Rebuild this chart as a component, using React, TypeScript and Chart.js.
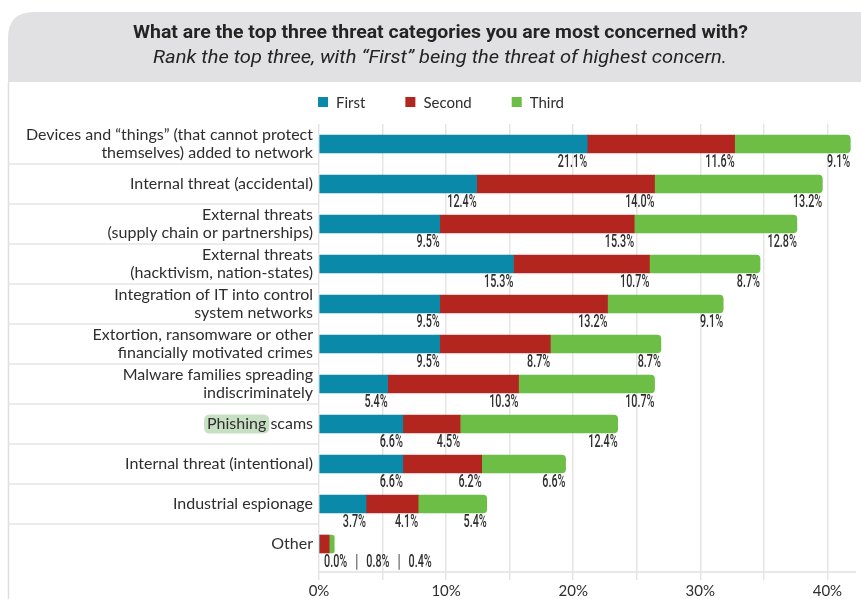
import React, { useEffect, useRef } from 'react';
import { Chart, registerables } from 'chart.js';

Chart.register(...registerables);

const titleText = 'What are the top three threat categories you are most concerned with?';
const subtitleText = 'Rank the top three, with \u201CFirst\u201D being the threat of highest concern.';

const categories: (string | string[])[] = [
  ['Devices and \u201Cthings\u201D (that cannot protect', 'themselves) added to network'],
  'Internal threat (accidental)',
  ['External threats', '(supply chain or partnerships)'],
  ['External threats', '(hacktivism, nation-states)'],
  ['Integration of IT into control', 'system networks'],
  ['Extortion, ransomware or other', 'financially motivated crimes'],
  ['Malware families spreading', 'indiscriminately'],
  'Phishing scams',
  'Internal threat (intentional)',
  'Industrial espionage',
  'Other',
];

const seriesNames = ['First', 'Second', 'Third'];
const firstValues = [21.1, 12.4, 9.5, 15.3, 9.5, 9.5, 5.4, 6.6, 6.6, 3.7, 0.0];
const secondValues = [11.6, 14.0, 15.3, 10.7, 13.2, 8.7, 10.3, 4.5, 6.2, 4.1, 0.8];
const thirdValues = [9.1, 13.2, 12.8, 8.7, 9.1, 8.7, 10.7, 12.4, 6.6, 5.4, 0.4];
const seriesColors = ['#0a89a9', '#b3261f', '#6cbe46'];

const xTickStep = 5;
const xLabelStep = 10;
const xMax = 42.25;

const highlightWord = 'Phishing';
const otherIndex = 10;

const CAT_FONT_SIZE = 16;
const CAT_FONT = `${CAT_FONT_SIZE}px Lato`;
const LEGEND_FONT = '15px Lato';
const TEXT_COLOR = '#2e2e2e';

function drawScaledText(ctx: CanvasRenderingContext2D, text: string, x: number, y: number, sx: number, align: CanvasTextAlign) {
  ctx.save();
  ctx.translate(x, y);
  ctx.scale(sx, 1);
  ctx.textAlign = align;
  ctx.fillText(text, 0, 0);
  ctx.restore();
}

const decorPlugin = {
  id: 'decor',
  beforeDraw(chart: any) {
    const ctx: CanvasRenderingContext2D = chart.ctx;
    const { left, right, bottom } = chart.chartArea;
    const W = chart.width;
    const H = chart.height;
    ctx.save();
    ctx.fillStyle = '#ffffff';
    ctx.fillRect(0, 0, W, H);

    // header band
    const hx = 8, hy = 12, hh = 70, r = 26;
    ctx.fillStyle = '#e1e1e3';
    ctx.beginPath();
    ctx.moveTo(hx, hy + r);
    ctx.quadraticCurveTo(hx, hy, hx + r, hy);
    ctx.lineTo(W, hy);
    ctx.lineTo(W, hy + hh);
    ctx.lineTo(hx, hy + hh);
    ctx.closePath();
    ctx.fill();

    // left border
    ctx.strokeStyle = '#dedede';
    ctx.lineWidth = 1.5;
    ctx.beginPath();
    ctx.moveTo(hx + 0.5, hy + hh);
    ctx.lineTo(hx + 0.5, H);
    ctx.stroke();

    // separators between category labels
    const yScale = chart.scales.y;
    ctx.strokeStyle = '#e4e4e4';
    ctx.lineWidth = 1.5;
    for (let i = 1; i < categories.length; i++) {
      const y = (yScale.getPixelForValue(i - 1) + yScale.getPixelForValue(i)) / 2;
      ctx.beginPath();
      ctx.moveTo(hx, y);
      ctx.lineTo(left, y);
      ctx.stroke();
    }

    // bottom axis line
    ctx.strokeStyle = '#e2e2e2';
    ctx.beginPath();
    ctx.moveTo(left, bottom + 8);
    ctx.lineTo(right, bottom + 8);
    ctx.stroke();

    // title
    ctx.fillStyle = '#242424';
    ctx.textBaseline = 'middle';
    ctx.font = 'bold 19px Roboto';
    const tw = ctx.measureText(titleText).width;
    drawScaledText(ctx, titleText, 440.5, 33, 615 / tw, 'center');
    ctx.font = 'italic 18px Roboto';
    const sw = ctx.measureText(subtitleText).width;
    drawScaledText(ctx, subtitleText, 440, 58, 574 / sw, 'center');

    // legend
    ctx.font = LEGEND_FONT;
    const widths = seriesNames.map((n) => ctx.measureText(n).width);
    const gap = 40;
    const total = widths.reduce((a, b) => a + b + 18, 0) + gap * (seriesNames.length - 1);
    let lx = 441 - total / 2;
    const ly = 102;
    seriesNames.forEach((n, i) => {
      ctx.fillStyle = seriesColors[i];
      ctx.fillRect(lx, ly - 5, 10, 10);
      ctx.fillStyle = TEXT_COLOR;
      ctx.textAlign = 'left';
      ctx.fillText(n, lx + 18, ly + 1);
      lx += 18 + widths[i] + gap;
    });

    // highlight behind a word in a category label
    const idx = categories.findIndex((c) => typeof c === 'string' && c.startsWith(highlightWord));
    if (idx >= 0) {
      const full = categories[idx] as string;
      ctx.font = CAT_FONT;
      const fw = ctx.measureText(full).width;
      const ww = ctx.measureText(highlightWord).width;
      const xr = left - 6;
      const x0 = xr - fw - 3;
      const yc = yScale.getPixelForValue(idx);
      const w = ww + 6, h = 19, rr = 6;
      ctx.fillStyle = '#c7dfc3';
      ctx.beginPath();
      ctx.moveTo(x0 + rr, yc - h / 2);
      ctx.lineTo(x0 + w - rr, yc - h / 2);
      ctx.quadraticCurveTo(x0 + w, yc - h / 2, x0 + w, yc - h / 2 + rr);
      ctx.lineTo(x0 + w, yc + h / 2 - rr);
      ctx.quadraticCurveTo(x0 + w, yc + h / 2, x0 + w - rr, yc + h / 2);
      ctx.lineTo(x0 + rr, yc + h / 2);
      ctx.quadraticCurveTo(x0, yc + h / 2, x0, yc + h / 2 - rr);
      ctx.lineTo(x0, yc - h / 2 + rr);
      ctx.quadraticCurveTo(x0, yc - h / 2, x0 + rr, yc - h / 2);
      ctx.closePath();
      ctx.fill();
    }
    ctx.restore();
  },
  afterDatasetsDraw(chart: any) {
    const ctx: CanvasRenderingContext2D = chart.ctx;
    ctx.save();
    ctx.font = '500 18px Roboto';
    ctx.fillStyle = TEXT_COLOR;
    ctx.textBaseline = 'middle';
    const sx = 0.6;
    chart.data.datasets.forEach((ds: any, di: number) => {
      const meta = chart.getDatasetMeta(di);
      meta.data.forEach((el: any, j: number) => {
        if (j === otherIndex) return;
        const v = ds.data[j] as number;
        drawScaledText(ctx, v.toFixed(1) + '%', el.x, el.y + 18, sx, 'right');
      });
    });
    // combined label for the small last row
    const vals = chart.data.datasets.map((ds: any) => (ds.data[otherIndex] as number).toFixed(1) + '%');
    const el0 = chart.getDatasetMeta(0).data[otherIndex];
    drawScaledText(ctx, vals.join(' \u2002|\u2002 '), chart.chartArea.left + 5, el0.y + 18, sx, 'left');
    ctx.restore();
  },
};

export default function App() {
  const ref = useRef<HTMLCanvasElement | null>(null);
  useEffect(() => {
    document.body.style.margin = '0';
    const canvas = ref.current!;
    const data = [firstValues, secondValues, thirdValues];
    const chart = new Chart(canvas, {
      type: 'bar',
      data: {
        labels: categories,
        datasets: seriesNames.map((name, i) => ({
          label: name,
          data: data[i],
          backgroundColor: seriesColors[i],
          borderWidth: 0,
          barThickness: 18,
          borderSkipped: 'start' as const,
          borderRadius: i === seriesNames.length - 1 ? { topLeft: 0, bottomLeft: 0, topRight: 4, bottomRight: 4 } : 0,
        })),
      },
      options: {
        indexAxis: 'y',
        responsive: false,
        animation: false,
        devicePixelRatio: 1,
        layout: { padding: { top: 124, right: 5, bottom: 0, left: 0 } },
        plugins: {
          legend: { display: false },
          title: { display: false },
          tooltip: { enabled: false },
        },
        scales: {
          x: {
            stacked: true,
            min: 0,
            max: xMax,
            position: 'bottom',
            border: { display: false },
            grid: { color: '#e5e5e5', lineWidth: 1.5, tickLength: 16, drawTicks: true },
            ticks: {
              stepSize: xTickStep,
              includeBounds: false,
              autoSkip: false,
              maxRotation: 0,
              padding: 2,
              color: TEXT_COLOR,
              font: { family: 'Lato', size: 15 },
              callback: (v: any) => (Number(v) % xLabelStep === 0 ? v + '%' : ''),
            },
            afterFit: (s: any) => { s.height = 35; },
          },
          y: {
            stacked: true,
            border: { display: false },
            grid: { display: false, drawTicks: false, tickLength: 0 },
            ticks: {
              padding: 6,
              color: TEXT_COLOR,
              autoSkip: false,
              font: { family: 'Lato', size: CAT_FONT_SIZE, lineHeight: 1.1 },
            },
            afterFit: (s: any) => { s.width = 319; },
          },
        },
      },
      plugins: [decorPlugin],
    } as any);
    return () => chart.destroy();
  }, []);
  return <canvas ref={ref} width={861} height={599} style={{ display: 'block' }} />;
}
